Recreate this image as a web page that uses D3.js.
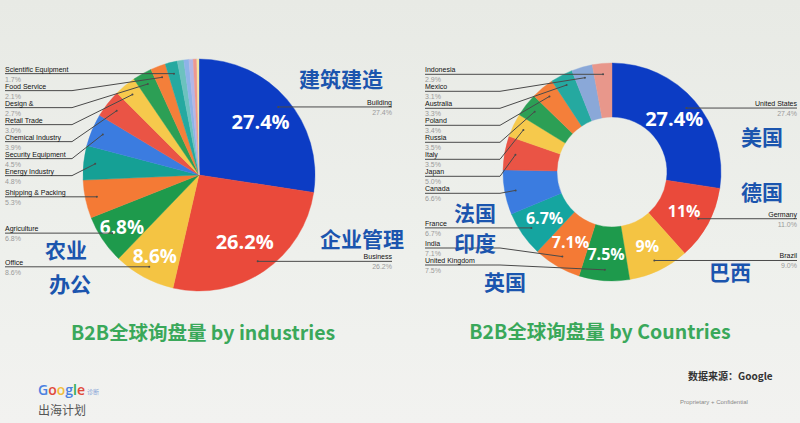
<!DOCTYPE html>
<html><head><meta charset="utf-8">
<script src="https://cdn.jsdelivr.net/npm/d3@7"></script>
<style>body{margin:0;background:#eeefec;} svg{display:block}</style>
</head><body><svg id="c" width="800" height="423"></svg>
<script>
// ---- data ----
const industryNames = ["Building","Business","Office","Agriculture","Shipping & Packing","Energy Industry","Security Equipment","Chemical Industry","Retail Trade","Design &","Food Service","Scientific Equipment","Other 1","Other 2","Other 3","Other 4","Other 5"];
const industryValues = [27.4,26.2,8.6,6.8,5.3,4.8,4.5,3.9,3.0,2.7,2.1,1.7,0.9,0.7,0.6,0.5,0.3];
const industryColors = ["#0c3cc4","#ea4a3b","#f4c443","#1e9a4c","#f47a35","#15a095","#3b7ce0","#ea5445","#f6c94c","#2c9f55","#f47f3a","#25a9a0","#6cc2bf","#8db3e8","#b4b6e6","#ee9890","#f3e6a4"];
const industryNotes = ["建筑建造","企业管理","农业","办公"];

const countryNames = ["United States","Germany","Brazil","United Kingdom","India","France","Canada","Japan","Italy","Russia","Poland","Australia","Mexico","Indonesia"];
const countryValues = [27.4,11.0,9.0,7.5,7.1,6.7,6.6,5.0,3.5,3.5,3.4,3.3,3.1,2.9];
const countryColors = ["#0c3cc4","#ea4a3b","#f4c443","#1e9a4c","#f47a35","#15a5a0","#3b7ce0","#ea5445","#f6c94c","#2c9f55","#f47f3a","#25a9a0","#8aa8d8","#e8978b"];
const countryNotes = ["美国","德国","巴西","英国","印度","法国"];

const titles = ["B2B全球询盘量 by industries","B2B全球询盘量 by Countries"];
const sourceText = "数据来源：Google";

// ---- drawing ----
const svg = d3.select("#c");
const defs = svg.append("defs");
const bg = defs.append("linearGradient").attr("id","bg").attr("x1",0).attr("y1",0).attr("x2",0).attr("y2",1);
bg.append("stop").attr("offset","0%").attr("stop-color","#e8eae5");
bg.append("stop").attr("offset","60%").attr("stop-color","#eef0ec");
bg.append("stop").attr("offset","100%").attr("stop-color","#f2f2f0");
svg.append("rect").attr("width",800).attr("height",423).attr("fill","url(#bg)");

const latin = "'Liberation Sans', Arial, sans-serif";
const cjk = "'Noto Sans CJK SC', 'Noto Sans', sans-serif";
const pctFmt = v => (+v.toFixed(1)) + "%";

function drawPie(o){
  const g = svg.append("g");
  const pie = d3.pie().sort(null).value(d => d.v);
  const data = o.names.map((n,i)=>({n, v:o.values[i], c:o.colors[i]}));
  const arcs = pie(data);
  const arc = d3.arc().innerRadius(o.r0).outerRadius(o.R);
  const gp = g.append("g").attr("transform",`translate(${o.cx},${o.cy})`);
  gp.selectAll("path").data(arcs).join("path")
    .attr("d",arc).attr("fill",d=>d.data.c)
    .attr("stroke",d=>d.data.c).attr("stroke-width",0.4);

  gp.selectAll("text.pct").data(arcs.filter(d=>d.data.v>=o.threshold)).join("text")
    .attr("class","pct")
    .attr("transform",d=>{
      const a=(d.startAngle+d.endAngle)/2;
      const rr = o.r0>0 ? (o.R+o.r0)/2 : (d.data.v>20?0.7:0.8)*o.R;
      return `translate(${Math.sin(a)*rr},${-Math.cos(a)*rr})`;
    })
    .attr("text-anchor","middle").attr("dy","0.36em")
    .attr("fill","#fff").attr("font-family","'Open Sans', sans-serif").attr("font-weight",700)
    .attr("font-size",d=>d.data.v>20?20:(o.r0>0?16:19))
    .text(d=>pctFmt(d.data.v));

  const labeled = arcs.filter(d=>!d.data.n.startsWith("Other")).map(d=>{
    const a=(d.startAngle+d.endAngle)/2;
    const pr = 0.9*o.R;
    return {d, a, px:o.cx+Math.sin(a)*pr, py:o.cy-Math.cos(a)*pr, left:a>Math.PI};
  });
  ["left","right"].forEach(side=>{
    const list = labeled.filter(l=>(side==="left")===l.left).sort((p,q)=>p.py-q.py);
    list.forEach(l=>l.ly=l.py);
    for(let i=0;i<list.length;i++){
      const prev = i? list[i-1].ly+17 : o.topY;
      list[i].ly = Math.max(list[i].ly, prev);
    }
    for(let i=list.length-1;i>=0;i--){
      const nxt = i<list.length-1 ? list[i+1].ly-17 : o.bottomY;
      list[i].ly = Math.min(list[i].ly, nxt);
    }
    list.forEach(l=>{
      let pts;
      if(side==="left"){
        const ex = Math.min(o.elbowL, l.px);
        pts=[[o.leftX,l.ly],[ex,l.ly],[l.px,l.py]];
      } else {
        const ex = Math.max(o.elbowR, l.px);
        pts=[[o.rightX,l.ly],[ex,l.ly],[l.px,l.py]];
      }
      g.append("path").attr("d",d3.line()(pts)).attr("fill","none")
        .attr("stroke","#4a4a4a").attr("stroke-width",1);
      g.append("circle").attr("cx",l.px).attr("cy",l.py).attr("r",1).attr("fill","#4a4a4a");
      const x = side==="left"?o.leftX:o.rightX;
      const anchor = side==="left"?"start":"end";
      g.append("text").attr("x",x).attr("y",l.ly-2).attr("text-anchor",anchor)
        .attr("font-family",latin).attr("font-size",7).attr("fill","#111").text(l.d.data.n);
      g.append("text").attr("x",x).attr("y",l.ly+8).attr("text-anchor",anchor)
        .attr("font-family",latin).attr("font-size",7).attr("fill","#9a9a9a").text(l.d.data.v.toFixed(1)+"%");
    });
  });
  return g;
}

drawPie({cx:199, cy:175, R:116, r0:0, names:industryNames, values:industryValues, colors:industryColors,
  threshold:6.8, leftX:5, rightX:392, elbowL:72, elbowR:330, topY:68, bottomY:270});
drawPie({cx:612, cy:172, R:109, r0:55, names:countryNames, values:countryValues, colors:countryColors,
  threshold:6.7, leftX:425, rightX:797, elbowL:500, elbowR:735, topY:70, bottomY:265});

const notePos = {
  "建筑建造":[341,79], "企业管理":[362,239], "农业":[66,250], "办公":[70,284],
  "美国":[762,137], "德国":[762,192], "巴西":[730,272], "英国":[505,282], "印度":[475,243], "法国":[475,213]
};
industryNotes.concat(countryNotes).forEach(t=>{
  const p = notePos[t];
  svg.append("text").attr("x",p[0]).attr("y",p[1]).attr("text-anchor","middle").attr("dy","0.36em")
    .attr("font-family",cjk).attr("font-weight",700).attr("font-size",21).attr("fill","#1b55ae").text(t);
});

[[203,333],[600,332]].forEach((p,i)=>{
  svg.append("text").attr("x",p[0]).attr("y",p[1]).attr("text-anchor","middle").attr("dy","0.36em")
    .attr("font-family",cjk).attr("font-weight",700).attr("font-size",19.5).attr("fill","#3aa85a").text(titles[i]);
});

// footer: Google wordmark as a single text, coloured by a gradient of hard stops
const word = svg.append("text").attr("x",38).attr("y",395).attr("font-family","'Open Sans', sans-serif")
  .attr("font-size",14).attr("font-weight",600).text("Google");
const wlen = word.node().getComputedTextLength();
const lg = defs.append("linearGradient").attr("id","glogo").attr("gradientUnits","userSpaceOnUse")
  .attr("x1",38).attr("x2",38+wlen).attr("y1",0).attr("y2",0);
const letters = ["G","o","o","g","l","e"];
const lcols = ["#4a7fe0","#e0483b","#f2bc3c","#4a7fe0","#34a853","#e0483b"];
const tmp = svg.append("text").attr("font-family","'Open Sans', sans-serif").attr("font-size",14).attr("font-weight",600);
let acc = 0;
letters.forEach((ch,i)=>{
  tmp.text(letters.slice(0,i+1).join(""));
  const end = tmp.node().getComputedTextLength()/wlen;
  lg.append("stop").attr("offset",acc).attr("stop-color",lcols[i]);
  lg.append("stop").attr("offset",end).attr("stop-color",lcols[i]);
  acc = end;
});
tmp.remove();
word.attr("fill","url(#glogo)");
svg.append("text").attr("x",40+wlen).attr("y",394).attr("font-family",cjk).attr("font-size",6).attr("fill","#8aa6d8").text("诊断");
svg.append("text").attr("x",38).attr("y",415).attr("font-family",cjk).attr("font-size",12).attr("fill","#555").text("出海计划");
svg.append("text").attr("x",688).attr("y",380).attr("font-family",cjk).attr("font-weight",700).attr("font-size",10).attr("fill","#333").text(sourceText);
svg.append("text").attr("x",680).attr("y",404).attr("font-family",latin).attr("font-size",6).attr("fill","#888").text("Proprietary + Confidential");
</script></body></html>
